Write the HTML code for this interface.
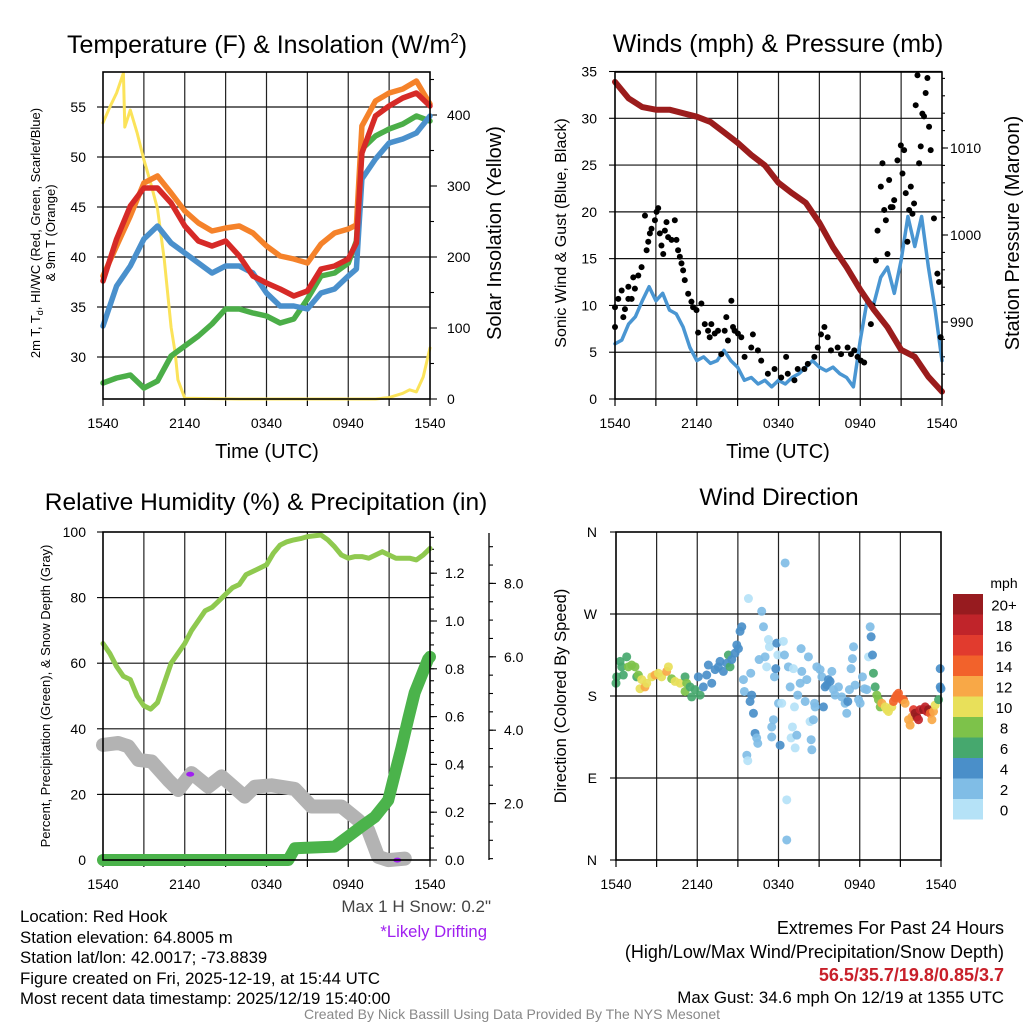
<!DOCTYPE html>
<html><head><meta charset="utf-8"><title>Red Hook Meteogram</title>
<style>
html,body{margin:0;padding:0;background:#fff;}
svg{display:block;font-family:"Liberation Sans",Arial,sans-serif;}
</style></head>
<body>
<svg id="fig" width="1024" height="1024" viewBox="0 0 1024 1024" xmlns="http://www.w3.org/2000/svg">
<rect x="0" y="0" width="1024" height="1024" fill="#fff"/>
<!-- Titles -->
<text x="267" y="53" font-size="25" text-anchor="middle">Temperature (F) &amp; Insolation (W/m<tspan dy="-10" font-size="15">2</tspan><tspan dy="10">)</tspan></text>
<text x="778" y="52" font-size="25" text-anchor="middle">Winds (mph) &amp; Pressure (mb)</text>
<text x="266" y="510" font-size="24.5" text-anchor="middle">Relative Humidity (%) &amp; Precipitation (in)</text>
<text x="779" y="505" font-size="24.5" text-anchor="middle">Wind Direction</text>
<!-- Axis titles -->
<text transform="translate(40,233) rotate(-90)" font-size="13" text-anchor="middle">2m T, T<tspan dy="3" font-size="9">d</tspan><tspan dy="-3">, HI/WC (Red, Green, Scarlet/Blue)</tspan></text>
<text transform="translate(55,233) rotate(-90)" font-size="13" text-anchor="middle">&amp; 9m T (Orange)</text>
<text transform="translate(501,233) rotate(-90)" font-size="20" text-anchor="middle">Solar Insolation (Yellow)</text>
<text x="267" y="458" font-size="20" text-anchor="middle">Time (UTC)</text>
<text transform="translate(566,233) rotate(-90)" font-size="16" text-anchor="middle">Sonic Wind &amp; Gust (Blue, Black)</text>
<text transform="translate(1019,233) rotate(-90)" font-size="20" text-anchor="middle">Station Pressure (Maroon)</text>
<text x="778" y="458" font-size="20" text-anchor="middle">Time (UTC)</text>
<text transform="translate(50,696) rotate(-90)" font-size="13" text-anchor="middle">Percent, Precipitation (Green), &amp; Snow Depth (Gray)</text>
<text transform="translate(566,696) rotate(-90)" font-size="16.5" text-anchor="middle">Direction (Colored By Speed)</text>
<!-- Bottom text -->
<g font-size="16.8" fill="#000">
<text x="20" y="922">Location: Red Hook</text>
<text x="20" y="943">Station elevation: 64.8005 m</text>
<text x="20" y="963">Station lat/lon: 42.0017; -73.8839</text>
<text x="20" y="984">Figure created on Fri, 2025-12-19, at 15:44 UTC</text>
<text x="20" y="1004">Most recent data timestamp: 2025/12/19 15:40:00</text>
</g>
<text x="491" y="912" font-size="17" fill="#444" text-anchor="end">Max 1 H Snow: 0.2"</text>
<text x="487" y="937" font-size="16.7" fill="#a020f0" text-anchor="end">*Likely Drifting</text>
<g font-size="18" text-anchor="end">
<text x="1004" y="934">Extremes For Past 24 Hours</text>
<text x="1004" y="958">(High/Low/Max Wind/Precipitation/Snow Depth)</text>
<text x="1004" y="981" fill="#c8202a" font-weight="bold">56.5/35.7/19.8/0.85/3.7</text>
<text x="1004" y="1003" font-size="16.9">Max Gust: 34.6 mph On 12/19 at 1355 UTC</text>
</g>
<text x="512" y="1019" font-size="14" fill="#888" text-anchor="middle">Created By Nick Bassill Using Data Provided By The NYS Mesonet</text>
</svg>
<script>
// ---------- DATA ----------
var xTickLabels = ["1540","2140","0340","0940","1540"];
var tempTicks = [30,35,40,45,50,55];
var solTicks = [0,100,200,300,400];
var windTicks = [0,5,10,15,20,25,30,35];
var presTicks = [990,1000,1010];
var rhTicks = [0,20,40,60,80,100];
var precipTicks = ["0.0","0.2","0.4","0.6","0.8","1.0","1.2"];
var snowTicks = ["2.0","4.0","6.0","8.0"];
var dirTicks = ["N","E","S","W","N"];
var speedBins = ["0","2","4","6","8","10","12","14","16","18","20+"];

var tempHours = [0,1,2,3,4,5,6,7,8,9,10,11,12,13,14,15,16,17,18,18.6,19,20,21,22,23,24];
var temp9m = [38.1,41.1,44.1,47.4,48.1,46.4,44.6,43.4,42.6,42.9,43.1,42.4,41.1,40.1,39.8,39.4,41.3,42.4,42.8,43.2,53.1,55.6,56.4,56.8,57.6,55.3];
var temp2m = [37.6,41.8,45.1,46.9,46.9,45.4,43.1,41.6,41.1,41.6,40.1,38.1,37.4,36.8,36.1,36.6,38.8,39.1,39.8,41.4,50.4,54.1,55.1,55.9,56.4,55.1];
var dewpt = [27.4,27.9,28.2,26.9,27.6,30.1,31.1,32.1,33.3,34.8,34.8,34.4,34.1,33.4,33.8,35.8,38.1,38.4,39.4,41.6,50.8,52.1,52.8,53.3,54.1,53.6];
var windChill = [33.1,37.1,39.1,41.8,43.1,41.4,40.4,39.4,38.4,39.1,39.1,38.4,36.4,35.1,35.1,34.8,36.4,36.8,38.1,38.8,47.8,49.8,51.4,51.8,52.4,54.1];

var solHours = [0,0.5,1,1.5,1.6,2,2.5,3,3.5,4,4.5,5,5.3,5.5,6,10,15,20,21,22,22.5,23,23.5,24];
var solar = [389,411,431,459,383,407,375,337,304,268,196,101,65,27,1,0,0,0,2,8,13,10,31,72];

var windHours = [0,0.5,1,1.5,2,2.5,3,3.5,4,4.5,5,5.5,6,6.5,7,7.5,8,8.5,9,9.5,10,10.5,11,11.5,12,12.5,13,13.5,14,14.5,15,15.5,16,16.5,17,17.5,18,18.5,19,19.5,20,20.5,21,21.5,22,22.5,23,23.5,24];
var sonicWind = [5.9,6.3,8.0,8.8,10.5,12,10.5,11.3,9.5,9.1,7.7,5.5,4.1,4.5,3.8,4.1,5.2,4.1,3.4,2.0,2.3,1.6,2.0,1.3,2.0,1.6,2.3,2.7,3.4,4.1,3.4,3.0,3.4,2.7,2.3,1.3,6.3,10.5,10.2,13.0,14.1,11.3,14.8,19.5,16.3,19.5,14.1,9.5,4.1];

var presHours = [0,1,2,3,4,5,6,7,8,9,10,11,12,13,14,15,16,17,18,19,20,21,22,23,24];
var pressure = [1017.6,1015.7,1014.7,1014.4,1014.4,1014.0,1013.6,1013.0,1011.8,1010.6,1009.2,1008.0,1006.0,1004.8,1003.7,1001.4,998.6,996.3,993.7,991.4,989.4,986.8,986.0,983.7,982.0];

var gustHours = [0,0,0.24,0.49,0.61,0.73,0.98,0.98,1.22,1.34,1.46,1.71,1.95,2.2,2.32,2.44,2.56,2.68,2.93,3.05,3.17,3.29,3.41,3.54,3.66,3.78,3.9,4.15,4.39,4.51,4.63,4.76,4.88,5.0,5.12,5.37,5.61,5.73,5.98,6.1,6.34,6.59,6.83,6.95,7.07,7.32,7.56,7.8,8.05,8.17,8.29,8.54,8.66,8.78,9.02,9.27,9.51,10.0,10.12,10.49,10.73,11.22,11.71,12.2,12.56,12.68,13.17,13.41,13.9,14.15,14.63,14.88,15.12,15.37,15.61,15.85,16.34,16.59,17.07,17.32,17.56,17.8,18.05,18.29,18.78,18.9,19.15,19.27,19.51,19.63,19.76,19.88,20.0,20.12,20.24,20.37,20.49,20.73,20.98,21.1,21.22,21.34,21.46,21.59,21.71,21.83,21.95,22.07,22.2,22.32,22.44,22.56,22.68,22.8,22.93,23.05,23.17,23.41,23.66,23.78,23.9];
var gustSpeed = [9.8,7.7,10.7,11.6,8.75,9.6,10.7,12.0,10.7,13.0,11.8,13.2,14.1,19.6,15.9,16.8,17.7,18.2,19.1,20.0,20.4,17.7,16.4,15.5,18.0,18.9,17.3,17.0,19.1,17.0,15.9,15.2,14.5,13.75,12.7,11.25,10.4,9.8,9.5,7.1,10.2,8.0,7.3,6.6,8.0,7.0,7.3,4.8,7.3,8.75,6.25,10.5,7.7,7.3,7.0,6.6,4.5,5.5,6.9,5.2,4.1,2.7,3.2,2.3,4.5,2.7,2.0,3.2,3.2,3.75,4.5,5.5,6.9,7.7,6.6,5.2,5.5,4.8,5.5,4.8,5.2,4.5,4.1,3.9,8.0,10.0,14.8,18.0,22.7,25.2,20.2,19.1,15.5,23.4,20.5,20.5,21.25,25.5,27.1,24.1,26.6,22.0,16.8,20.2,22.7,19.8,20.9,31.4,34.6,25.2,27.0,30.5,30.2,32.7,34.3,29.1,26.6,19.3,13.4,12.5,6.6];

var rhHours = [0,0.5,1,1.5,2,2.5,3,3.5,4,4.5,5,5.5,6,6.5,7,7.5,8,8.5,9,9.5,10,10.5,11,11.5,12,12.5,13,13.5,14,14.5,15,16,16.5,17,17.5,18,18.5,19,19.5,20,20.5,21,21.5,22,22.5,23,23.5,24];
var rhValues = [66,63,59,56,55,50,47,46,48,54,60,63,66,70,73,76,77,79,81,83,84,87,88,89,90,93.5,96,97,97.6,98,98.6,99.1,97.6,95.5,93,92,92.5,92.5,92,93,94,93,92,92,92,91.5,93,95];

var precipHours = [0,13.6,14.08,17.0,17.99,18.97,19.95,20.93,21.42,21.91,22.4,22.88,23.37,23.86,24];
var precipValues = [0,0,0.049,0.056,0.098,0.14,0.18,0.25,0.36,0.47,0.59,0.70,0.77,0.84,0.85];

var snowHours = [0,1.12,1.86,2.59,3.57,4.79,5.53,6.5,7.73,8.7,10.4,11.15,12.37,14.08,15.3,17.5,18.73,19.46,20.2,20.93,22.15];
var snowDepth = [3.6,3.65,3.56,3.19,3.15,2.64,2.37,2.83,2.46,2.74,2.19,2.46,2.5,2.4,1.92,1.92,1.55,1.28,0.55,0.46,0.5];
var driftHours = [6.4,21.6];
var driftDepth = [2.8,0.46];

var dirHours = [0,0.05,0.3,0.42,0.54,0.79,0.91,1.16,1.4,1.53,1.65,1.9,1.77,2.14,2.27,2.64,2.88,3.13,3.37,3.74,3.87,4.11,4.36,4.73,5.1,5.22,5.1,5.47,5.59,5.84,6.21,6.08,6.45,6.7,6.82,7.07,7.32,7.56,7.68,7.93,8.18,8.3,8.42,8.55,8.79,8.92,9.04,9.16,9.29,
9.41,9.48,9.78,9.9,9.95,10.02,10.15,10.27,10.39,10.47,9.66,9.73,10.57,10.76,10.89,11.01,11.13,11.26,11.33,11.5,11.5,11.63,11.7,11.8,11.87,11.95,12.0,12.12,12.24,12.36,12.44,12.49,12.61,12.61,12.73,12.86,12.93,13.03,13.1,13.18,13.23,13.35,13.42,13.6,13.67,13.72,13.97,14.09,14.21,14.33,14.41,14.46,14.58,14.66,14.7,14.83,15.07,15.2,15.32,15.44,15.57,15.69,15.81,15.94,16.06,16.18,16.43,16.67,16.92,17.04,17.12,17.24,17.36,17.46,17.54,17.66,17.91,18.03,18.2,18.35,18.52,18.65,18.77,18.84,18.94,
19.01,19.14,19.26,19.38,19.51,19.63,19.88,20.0,20.12,20.37,20.49,20.62,20.74,20.86,21.11,21.23,21.35,21.6,21.72,21.85,21.97,22.09,22.22,22.34,22.46,22.71,22.83,22.96,23.08,23.2,23.33,23.45,23.57,23.82,23.94,23.94,24];
var dirDeg = [194,201,218,212,203,223,212,214,212,201,203,198,188,190,194,201,203,205,201,207,212,199,196,194,201,194,185,190,179,187,181,201,190,203,214,194,209,212,218,207,216,225,212,220,227,236,232,251,256,
198,185,287,174,205,181,161,139,134,128,115,109,220,273,256,223,212,242,234,146,135,154,201,210,238,225,172,126,172,240,225,326,66,22,212,190,134,146,210,168,123,137,181,194,232,207,174,198,223,152,132,121,154,172,168,212,209,201,168,190,192,198,196,207,187,181,190,179,172,161,174,187,210,221,234,192,176,172,201,188,187,223,256,245,225,
205,190,181,176,168,172,168,165,163,168,174,178,181,183,176,176,172,154,148,157,165,161,157,154,165,165,168,163,165,161,154,163,170,176,190,210,188];
var dirSpeed = [7,7,7,7,7,7,9,9,9,7,9,11,11,13,11,11,13,11,11,13,11,9,11,11,7,9,9,7,7,7,7,5,5,5,5,5,5,5,5,5,5,7,7,5,5,5,5,5,5,
3,3,1,5,3,5,5,5,3,3,3,1,3,3,3,3,1,1,1,3,3,3,3,5,5,1,3,5,1,1,3,3,1,3,3,3,1,1,1,1,1,3,3,3,3,3,3,3,3,1,3,3,3,3,3,3,3,3,5,5,5,5,5,3,3,3,3,3,3,3,5,3,3,3,3,3,3,3,3,3,3,1,3,5,5,
7,7,9,9,9,13,11,11,11,11,15,15,15,15,15,15,13,13,13,13,17,21,21,19,19,21,19,19,21,15,13,13,11,7,5,5,5];
var binColors = ["#b5e2f7","#80bde6","#4a8fc9","#46a86e","#7dc24a","#e8e05a","#f8a847","#f2622b","#e13b2e","#c0242a","#971b1f"];

// ---------- DRAWING ----------
var NS = "http://www.w3.org/2000/svg";
var svg = document.getElementById("fig");
function el(tag, parent){ var e=document.createElementNS(NS,tag); (parent||svg).appendChild(e); return e; }
function attr(e,o){ for(var k in o) e.setAttribute(k,o[k]); return e; }

var P1={x0:103,x1:430,y0:72,y1:399}, P2={x0:615,x1:942,y0:72,y1:399}, P3={x0:103,x1:430,y0:532,y1:860}, P4={x0:616,x1:941,y0:532,y1:860};
function xS(P,h){ return P.x0 + h/24*(P.x1-P.x0); }
function yTemp(v){ return 357 - (v-30)*10; }
function ySol(v){ return 399 - v*0.71; }
function yWind(v){ return 399 - v*9.357; }
function yPres(v){ return 322 - (v-990)*8.7; }
function yRH(v){ return 860 - v*3.28; }
function yPrec(v){ return 860 - v*239; }
function ySnow(v){ return 877 - v*36.7; }
function yDir(v){ return 860 - v/360*328; }

function grid(P, hy, name){
  var g=el("g"); 
  
  for(var i=1;i<8;i++){ var x=P.x0+i*(P.x1-P.x0)/8; attr(el("line",g),{x1:x,x2:x,y1:P.y0,y2:P.y1,stroke:"#222","stroke-width":1.2}); }
  hy.forEach(function(y){ attr(el("line",g),{x1:P.x0,x2:P.x1,y1:y,y2:y,stroke:"#111","stroke-width":1.2}); });
  for(var i=0;i<=8;i++){ var x=P.x0+i*(P.x1-P.x0)/8; attr(el("line",g),{x1:x,x2:x,y1:P.y1,y2:P.y1+7,stroke:"#000","stroke-width":1.2}); }
  xTickLabels.forEach(function(t,i){ var tx=el("text");
    
    
    attr(tx,{x:P.x0+i*(P.x1-P.x0)/4,y:P.y1+29,"font-size":14,"text-anchor":"middle"}); tx.textContent=t; });
}
function frame(P,name){ var r=el("rect"); 
  
  attr(r,{x:P.x0,y:P.y0,width:P.x1-P.x0,height:P.y1-P.y0,fill:"none",stroke:"#000","stroke-width":1.6}); }
function label(x,y,t,anchor,name,size){ var tx=el("text");
  
  
  attr(tx,{x:x,y:y,"font-size":size||14,"text-anchor":anchor}); tx.textContent=t; return tx; }
function tick(x1,y1,x2,y2){ attr(el("line"),{x1:x1,y1:y1,x2:x2,y2:y2,stroke:"#000","stroke-width":1.1}); }
function pathD(xs, ys){ return xs.map(function(x,i){ return (i?"L":"M")+x.toFixed(1)+","+ys[i].toFixed(1); }).join(""); }
function line(P,hours,vals,yf,color,w,name){ var p=el("path");
  
  
  attr(p,{d:pathD(hours.map(function(h){return xS(P,h);}), vals.map(yf)),fill:"none",stroke:color,"stroke-width":w,"stroke-linejoin":"round","stroke-linecap":"round"}); }

// Panel 1
grid(P1, tempTicks.map(yTemp), "temperature");
tempTicks.forEach(function(v){ label(86,yTemp(v)+5,String(v),"end","temperature-y-tick-label"); tick(97,yTemp(v),103,yTemp(v)); });
solTicks.forEach(function(v){ label(447,ySol(v)+5,String(v),"start","insolation-y-tick-label"); tick(430,ySol(v),437,ySol(v)); });
for(var v=50;v<=450;v+=100){ if(ySol(v)>72) tick(430,ySol(v),434,ySol(v)); }
line(P1,solHours,solar,ySol,"#fbe35a",3,"insolation-line");
line(P1,tempHours,dewpt,yTemp,"#4bae48",5.5,"dewpoint-line");
line(P1,tempHours,windChill,yTemp,"#4a90cc",5.5,"wind-chill-line");
line(P1,tempHours,temp9m,yTemp,"#f5822a",5.5,"temp-9m-line");
line(P1,tempHours,temp2m,yTemp,"#d62a27",5.5,"temp-2m-line");
frame(P1,"temperature");

// Panel 2
grid(P2, windTicks.slice(1).map(yWind), "winds");
windTicks.forEach(function(v){ label(597,yWind(v)+5,String(v),"end","wind-y-tick-label"); tick(609,yWind(v),615,yWind(v)); });
presTicks.forEach(function(v){ label(950,yPres(v)+5,String(v),"start","pressure-y-tick-label"); tick(942,yPres(v),948,yPres(v)); });
for(var v=982;v<=1018;v+=2){ tick(942,yPres(v),945,yPres(v)); }
line(P2,windHours,sonicWind,yWind,"#4a96d2",3.5,"sonic-wind-line");
gustHours.forEach(function(h,i){ var c=el("circle");
  
  
  attr(c,{cx:xS(P2,h),cy:yWind(gustSpeed[i]),r:3,fill:"#000"}); });
line(P2,presHours,pressure,yPres,"#9b1c1c",6,"pressure-line");
frame(P2,"winds");

// Panel 3
grid(P3, rhTicks.slice(1,5).map(yRH), "humidity");
rhTicks.forEach(function(v){ label(86,yRH(v)+5,String(v),"end","humidity-y-tick-label"); tick(97,yRH(v),103,yRH(v)); });
precipTicks.forEach(function(t){ var v=parseFloat(t); label(445,yPrec(v)+5,t,"start","precip-y-tick-label"); tick(430,yPrec(v),437,yPrec(v)); });
for(var v=0.05;v<1.36;v+=0.05){ tick(430,yPrec(v),434,yPrec(v)); }
attr(el("line"),{x1:489,x2:489,y1:533,y2:860,stroke:"#000","stroke-width":1.3});
snowTicks.forEach(function(t){ var v=parseFloat(t); label(504,ySnow(v)+5,t,"start","snow-y-tick-label"); tick(489,ySnow(v),496,ySnow(v)); });
for(var v=0.5;v<=9.5;v+=0.5){ if(ySnow(v)>533&&ySnow(v)<861) tick(489,ySnow(v),493,ySnow(v)); }
line(P3,snowHours,snowDepth,ySnow,"#b3b3b3",14,"snow-depth-line");
driftHours.forEach(function(h,i){ var e=el("ellipse");
  
  
  attr(e,{cx:xS(P3,h),cy:ySnow(driftDepth[i]),rx:4,ry:2.5,fill:"#a020f0"}); });
line(P3,rhHours,rhValues,yRH,"#8fc94f",5,"rh-line");
line(P3,precipHours,precipValues,yPrec,"#4bb34b",12,"precip-line");
frame(P3,"humidity");

// Panel 4
grid(P4, [yDir(90),yDir(180),yDir(270)], "direction");
dirTicks.forEach(function(t,i){ var v=i*90; label(597,yDir(v)+5,t,"end","direction-y-tick-label"); tick(610,yDir(v),616,yDir(v)); });
dirHours.forEach(function(h,i){ var c=el("circle");
  
  
  var b=Math.min(10,Math.floor(dirSpeed[i]/2));
  attr(c,{cx:xS(P4,h),cy:yDir(dirDeg[i]),r:4.5,fill:binColors[b],"fill-opacity":0.92}); });
frame(P4,"direction");

// Colorbar
label(1004,588,"mph","middle","colorbar-title",14);
var cbTop=594, cbH=20.5;
speedBins.slice().reverse().forEach(function(t,j){ var b=10-j; var r=el("rect");
  
  
  attr(r,{x:953,y:cbTop+j*cbH,width:30,height:cbH,fill:binColors[b]});
  label(1004,cbTop+j*cbH+cbH/2+6,t,"middle","colorbar-label",15); });
</script>
</body></html>
